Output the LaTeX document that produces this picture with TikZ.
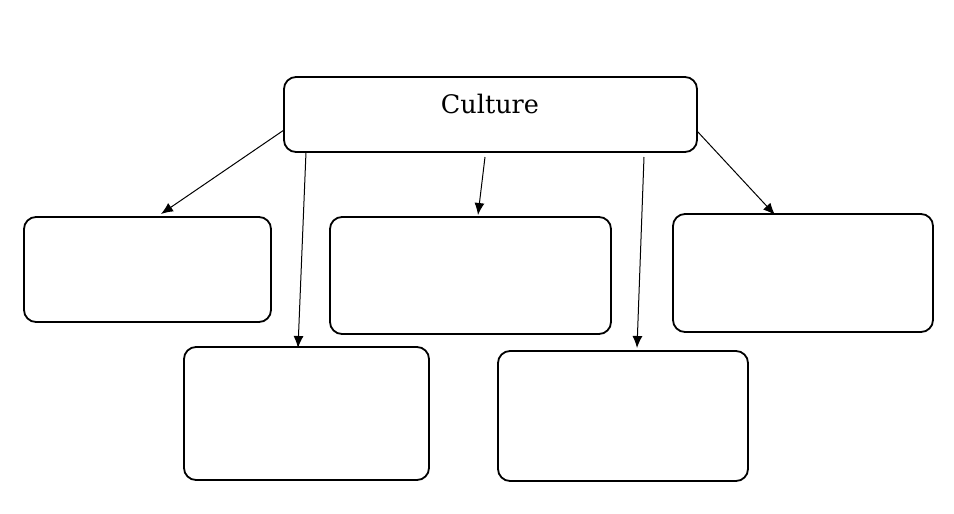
\documentclass[tikz,border=0pt]{standalone}
\usepackage{fontspec}
\newfontfamily\titlefont{DejaVu Serif}
\usetikzlibrary{arrows.meta}
\begin{document}
\begin{tikzpicture}[x=1pt,y=-1pt,
  box/.style={draw=black,line width=1.8pt,rounded corners=12pt,inner sep=0pt},
  conn/.style={draw=black,line width=1pt,-{Latex[length=12pt,width=10pt]}}]
\useasboundingbox (0,0) rectangle (954,514);
\node[box,minimum width=413pt,minimum height=75pt] (top) at (490.5,114.5) {};
\node (culture) at (490,104) {\titlefont\fontsize{25.5}{30}\selectfont Culture};
\node[box,minimum width=247pt,minimum height=105pt] (b1) at (147.5,269.5) {};
\node[box,minimum width=281pt,minimum height=117pt] (b2) at (470.5,275.5) {};
\node[box,minimum width=260pt,minimum height=118pt] (b3) at (803,273) {};
\node[box,minimum width=245pt,minimum height=133pt] (b4) at (306.5,413.5) {};
\node[box,minimum width=250pt,minimum height=130pt] (b5) at (623,416) {};
\coordinate (c1) at (284,130);
\coordinate (c2) at (306,152);
\coordinate (c3) at (485,157);
\coordinate (c4) at (644,157);
\coordinate (c5) at (697,131);
\coordinate (t1) at (161,214);
\coordinate (t2) at (298,348);
\coordinate (t3) at (478,215);
\coordinate (t4) at (637,348);
\coordinate (t5) at (775,215);
\draw[conn] (c1) -- (t1);
\draw[conn] (c2) -- (t2);
\draw[conn] (c3) -- (t3);
\draw[conn] (c4) -- (t4);
\draw[conn] (c5) -- (t5);
\end{tikzpicture}
\end{document}
